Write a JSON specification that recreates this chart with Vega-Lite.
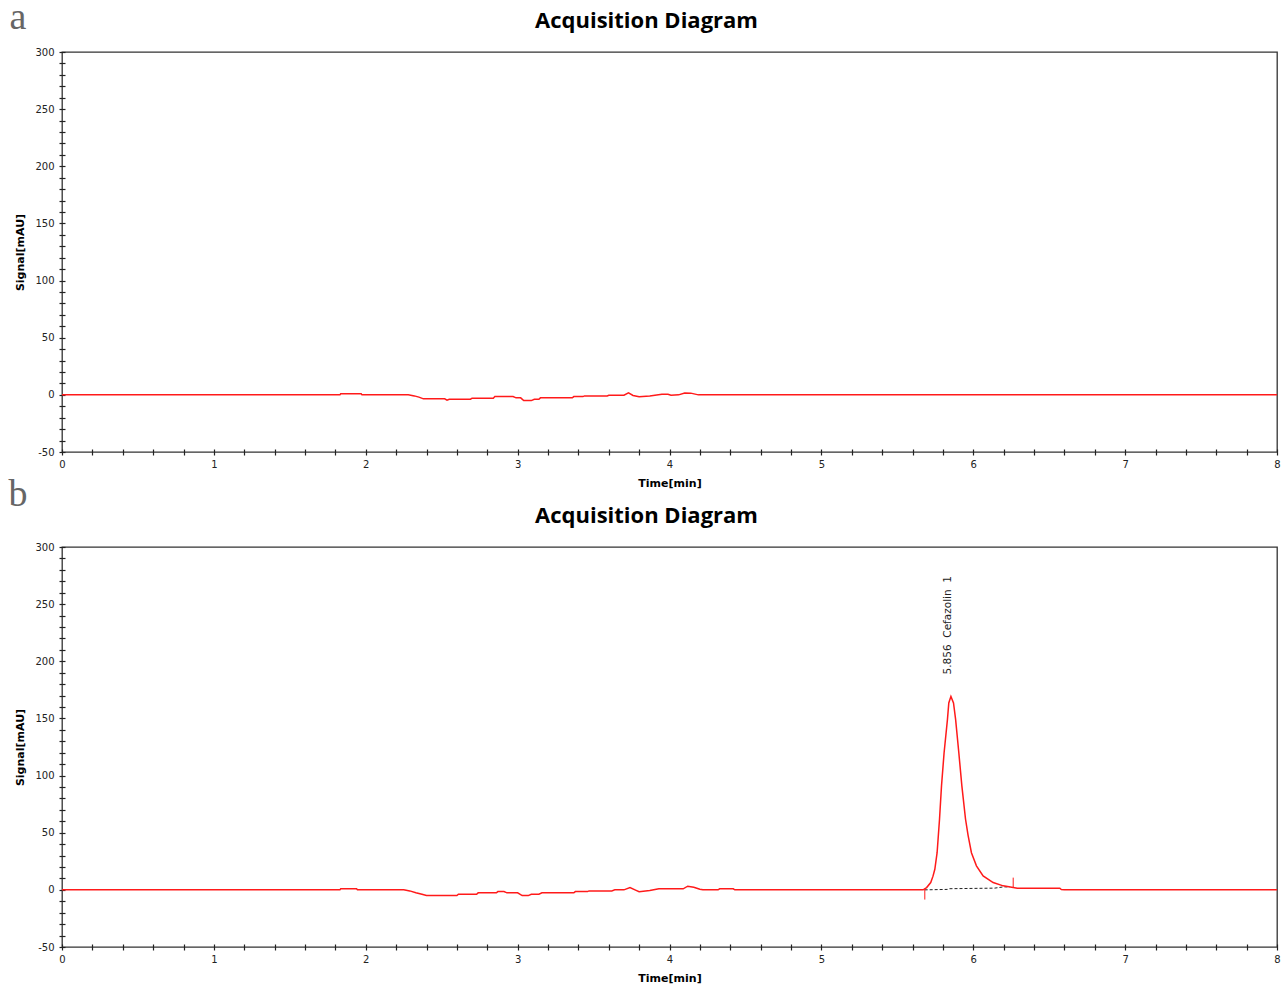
{
  "$schema": "https://vega.github.io/schema/vega-lite/v6.json",
  "background": "white",
  "padding": {"left": 7, "top": -2, "right": 5, "bottom": 5},
  "spacing": 95,
  "bounds": "flush",
  "datasets": {
    "traceA": [
      {"t": 0, "s": 0}, {"t": 1.83, "s": 0}, {"t": 1.835, "s": 0.9}, {"t": 1.97, "s": 0.9}, {"t": 1.975, "s": 0},
      {"t": 2.28, "s": 0}, {"t": 2.32, "s": -0.9}, {"t": 2.35, "s": -2}, {"t": 2.38, "s": -3.5}, {"t": 2.52, "s": -3.5},
      {"t": 2.535, "s": -4.7}, {"t": 2.55, "s": -3.8}, {"t": 2.69, "s": -3.8}, {"t": 2.7, "s": -2.9}, {"t": 2.84, "s": -2.9},
      {"t": 2.85, "s": -1.5}, {"t": 2.97, "s": -1.5}, {"t": 2.99, "s": -2.6}, {"t": 3.02, "s": -2.6}, {"t": 3.04, "s": -5},
      {"t": 3.09, "s": -5}, {"t": 3.11, "s": -3.8}, {"t": 3.14, "s": -3.8}, {"t": 3.15, "s": -2.6}, {"t": 3.36, "s": -2.6},
      {"t": 3.37, "s": -1.5}, {"t": 3.43, "s": -1.5}, {"t": 3.44, "s": -0.9}, {"t": 3.59, "s": -0.9}, {"t": 3.6, "s": -0.3},
      {"t": 3.7, "s": -0.3}, {"t": 3.73, "s": 1.7}, {"t": 3.76, "s": -0.5}, {"t": 3.8, "s": -1.7}, {"t": 3.87, "s": -0.9},
      {"t": 3.95, "s": 0.6}, {"t": 3.99, "s": 0.6}, {"t": 4.01, "s": -0.3}, {"t": 4.06, "s": 0}, {"t": 4.1, "s": 1.7},
      {"t": 4.14, "s": 1.5}, {"t": 4.19, "s": 0}, {"t": 8, "s": 0}
    ],
    "traceB": [
      {"t": 0, "s": 0}, {"t": 1.83, "s": 0}, {"t": 1.835, "s": 0.9}, {"t": 1.94, "s": 0.9}, {"t": 1.945, "s": 0},
      {"t": 2.25, "s": 0}, {"t": 2.29, "s": -0.9}, {"t": 2.33, "s": -2.6}, {"t": 2.37, "s": -3.8}, {"t": 2.4, "s": -5},
      {"t": 2.6, "s": -5}, {"t": 2.61, "s": -3.8}, {"t": 2.73, "s": -3.8}, {"t": 2.74, "s": -2.6}, {"t": 2.86, "s": -2.6},
      {"t": 2.87, "s": -1.5}, {"t": 2.91, "s": -1.5}, {"t": 2.93, "s": -2.6}, {"t": 3.0, "s": -2.6}, {"t": 3.03, "s": -5},
      {"t": 3.07, "s": -5}, {"t": 3.09, "s": -3.8}, {"t": 3.14, "s": -3.8}, {"t": 3.16, "s": -2.6}, {"t": 3.37, "s": -2.6},
      {"t": 3.38, "s": -1.5}, {"t": 3.46, "s": -1.5}, {"t": 3.47, "s": -0.9}, {"t": 3.62, "s": -0.9}, {"t": 3.64, "s": 0},
      {"t": 3.7, "s": 0}, {"t": 3.74, "s": 2}, {"t": 3.78, "s": -0.5}, {"t": 3.8, "s": -1.7}, {"t": 3.87, "s": -0.6},
      {"t": 3.93, "s": 0.9}, {"t": 4.09, "s": 0.9}, {"t": 4.12, "s": 3.2}, {"t": 4.16, "s": 2.3}, {"t": 4.2, "s": 0.5},
      {"t": 4.22, "s": 0}, {"t": 4.32, "s": 0}, {"t": 4.33, "s": 0.9}, {"t": 4.42, "s": 0.9}, {"t": 4.43, "s": 0},
      {"t": 5.67, "s": 0}, {"t": 5.693, "s": 2}, {"t": 5.72, "s": 6.4}, {"t": 5.735, "s": 12}, {"t": 5.747, "s": 18},
      {"t": 5.762, "s": 32.5}, {"t": 5.778, "s": 62}, {"t": 5.791, "s": 91}, {"t": 5.808, "s": 120}, {"t": 5.83, "s": 149},
      {"t": 5.839, "s": 163.5}, {"t": 5.853, "s": 169.3}, {"t": 5.87, "s": 163.5}, {"t": 5.884, "s": 149}, {"t": 5.905, "s": 120},
      {"t": 5.925, "s": 91}, {"t": 5.949, "s": 62}, {"t": 5.966, "s": 47.7}, {"t": 5.988, "s": 32.5}, {"t": 6.021, "s": 21},
      {"t": 6.065, "s": 12.2}, {"t": 6.131, "s": 6.4}, {"t": 6.197, "s": 3.5}, {"t": 6.263, "s": 2}, {"t": 6.29, "s": 1.4},
      {"t": 6.57, "s": 1.4}, {"t": 6.58, "s": 0.3}, {"t": 6.6, "s": 0}, {"t": 8, "s": 0}
    ],
    "baseB": [
      {"t": 5.68, "s": 0}, {"t": 5.83, "s": 0.4}, {"t": 5.84, "s": 1.0}, {"t": 6.14, "s": 1.5}, {"t": 6.2, "s": 2.6}, {"t": 6.24, "s": 2.6}
    ],
    "markB": [
      {"t": 5.681, "s": 1, "s2": -8.5},
      {"t": 6.263, "s": 10.7, "s2": 2}
    ],
    "noteB": [
      {"t": 5.835, "s": 188.5, "label": "5.856\u00a0\u00a0Cefazolin\u00a0\u00a01"}
    ],
    "panelA": [
      {"t": -0.29, "s": 320, "label": "a"}
    ],
    "panelB": [
      {"t": -0.29, "s": 335.8, "label": "b"}
    ]
  },
  "vconcat": [
    {
      "width": 1215,
      "height": 400,
      "title": {"text": "Acquisition Diagram", "offset": -34},
      "encoding": {
        "x": {
          "field": "t", "type": "quantitative",
          "scale": {"domain": [0, 8], "nice": false, "zero": false},
          "axis": {
            "title": "Time[min]",
            "values": [0,0.2,0.4,0.6,0.8,1,1.2,1.4,1.6,1.8,2,2.2,2.4,2.6,2.8,3,3.2,3.4,3.6,3.8,4,4.2,4.4,4.6,4.8,5,5.2,5.4,5.6,5.8,6,6.2,6.4,6.6,6.8,7,7.2,7.4,7.6,7.8,8],
            "labelExpr": "datum.value % 1 === 0 ? toString(datum.value) : ''"
          }
        },
        "y": {
          "field": "s", "type": "quantitative",
          "scale": {"domain": [-50, 300], "nice": false, "zero": false},
          "axis": {
            "title": "Signal[mAU]",
            "values": [-50,-40,-30,-20,-10,0,10,20,30,40,50,60,70,80,90,100,110,120,130,140,150,160,170,180,190,200,210,220,230,240,250,260,270,280,290,300],
            "labelExpr": "datum.value % 50 === 0 ? toString(datum.value) : ''"
          }
        }
      },
      "layer": [
        {
          "data": {"name": "traceA"},
          "mark": {"type": "line", "color": "#ff1a1a", "strokeWidth": 1.5}
        },
        {
          "data": {"name": "panelA"},
          "mark": {"type": "text", "clip": false, "font": "Liberation Serif", "fontSize": 38, "color": "#666666", "align": "center", "baseline": "alphabetic"},
          "encoding": {
            "text": {"field": "label"}
          }
        }
      ]
    },
    {
      "width": 1215,
      "height": 400,
      "title": {"text": "Acquisition Diagram", "offset": -52},
      "encoding": {
        "x": {
          "field": "t", "type": "quantitative",
          "scale": {"domain": [0, 8], "nice": false, "zero": false},
          "axis": {
            "title": "Time[min]",
            "values": [0,0.2,0.4,0.6,0.8,1,1.2,1.4,1.6,1.8,2,2.2,2.4,2.6,2.8,3,3.2,3.4,3.6,3.8,4,4.2,4.4,4.6,4.8,5,5.2,5.4,5.6,5.8,6,6.2,6.4,6.6,6.8,7,7.2,7.4,7.6,7.8,8],
            "labelExpr": "datum.value % 1 === 0 ? toString(datum.value) : ''"
          }
        },
        "y": {
          "field": "s", "type": "quantitative",
          "scale": {"domain": [-50, 300], "nice": false, "zero": false},
          "axis": {
            "title": "Signal[mAU]",
            "values": [-50,-40,-30,-20,-10,0,10,20,30,40,50,60,70,80,90,100,110,120,130,140,150,160,170,180,190,200,210,220,230,240,250,260,270,280,290,300],
            "labelExpr": "datum.value % 50 === 0 ? toString(datum.value) : ''"
          }
        }
      },
      "layer": [
        {
          "data": {"name": "baseB"},
          "mark": {"type": "line", "color": "#222222", "strokeWidth": 1, "strokeDash": [3, 2]}
        },
        {
          "data": {"name": "traceB"},
          "mark": {"type": "line", "color": "#ff1a1a", "strokeWidth": 1.5}
        },
        {
          "data": {"name": "markB"},
          "mark": {"type": "rule", "color": "#ff1a1a", "strokeWidth": 1},
          "encoding": {
            "y2": {"field": "s2"}
          }
        },
        {
          "data": {"name": "noteB"},
          "mark": {"type": "text", "clip": false, "angle": 270, "align": "left", "baseline": "middle", "font": "DejaVu Sans", "fontSize": 10.5, "color": "#222222"},
          "encoding": {
            "text": {"field": "label"}
          }
        },
        {
          "data": {"name": "panelB"},
          "mark": {"type": "text", "clip": false, "font": "Liberation Serif", "fontSize": 38, "color": "#666666", "align": "center", "baseline": "alphabetic"},
          "encoding": {
            "text": {"field": "label"}
          }
        }
      ]
    }
  ],
  "config": {
    "view": {"stroke": "#333333", "strokeWidth": 1.3},
    "title": {
      "font": "Open Sans", "fontSize": 22, "fontWeight": "bold", "color": "#000000",
      "anchor": "middle", "frame": "group", "dx": -23, "baseline": "alphabetic"
    },
    "axis": {
      "domain": false,
      "grid": false,
      "tickSize": 6,
      "offset": -3,
      "tickColor": "#222222",
      "tickWidth": 1.2,
      "labelFont": "DejaVu Sans",
      "labelFontSize": 10,
      "labelColor": "#222222",
      "labelOverlap": false,
      "labelFlush": false,
      "labelBound": false,
      "titleFont": "DejaVu Sans",
      "titleFontSize": 11,
      "titleFontWeight": "bold",
      "titleColor": "#000000"
    },
    "axisX": {"labelPadding": 4, "titlePadding": 8},
    "axisY": {"labelPadding": 5, "titlePadding": 9}
  }
}
